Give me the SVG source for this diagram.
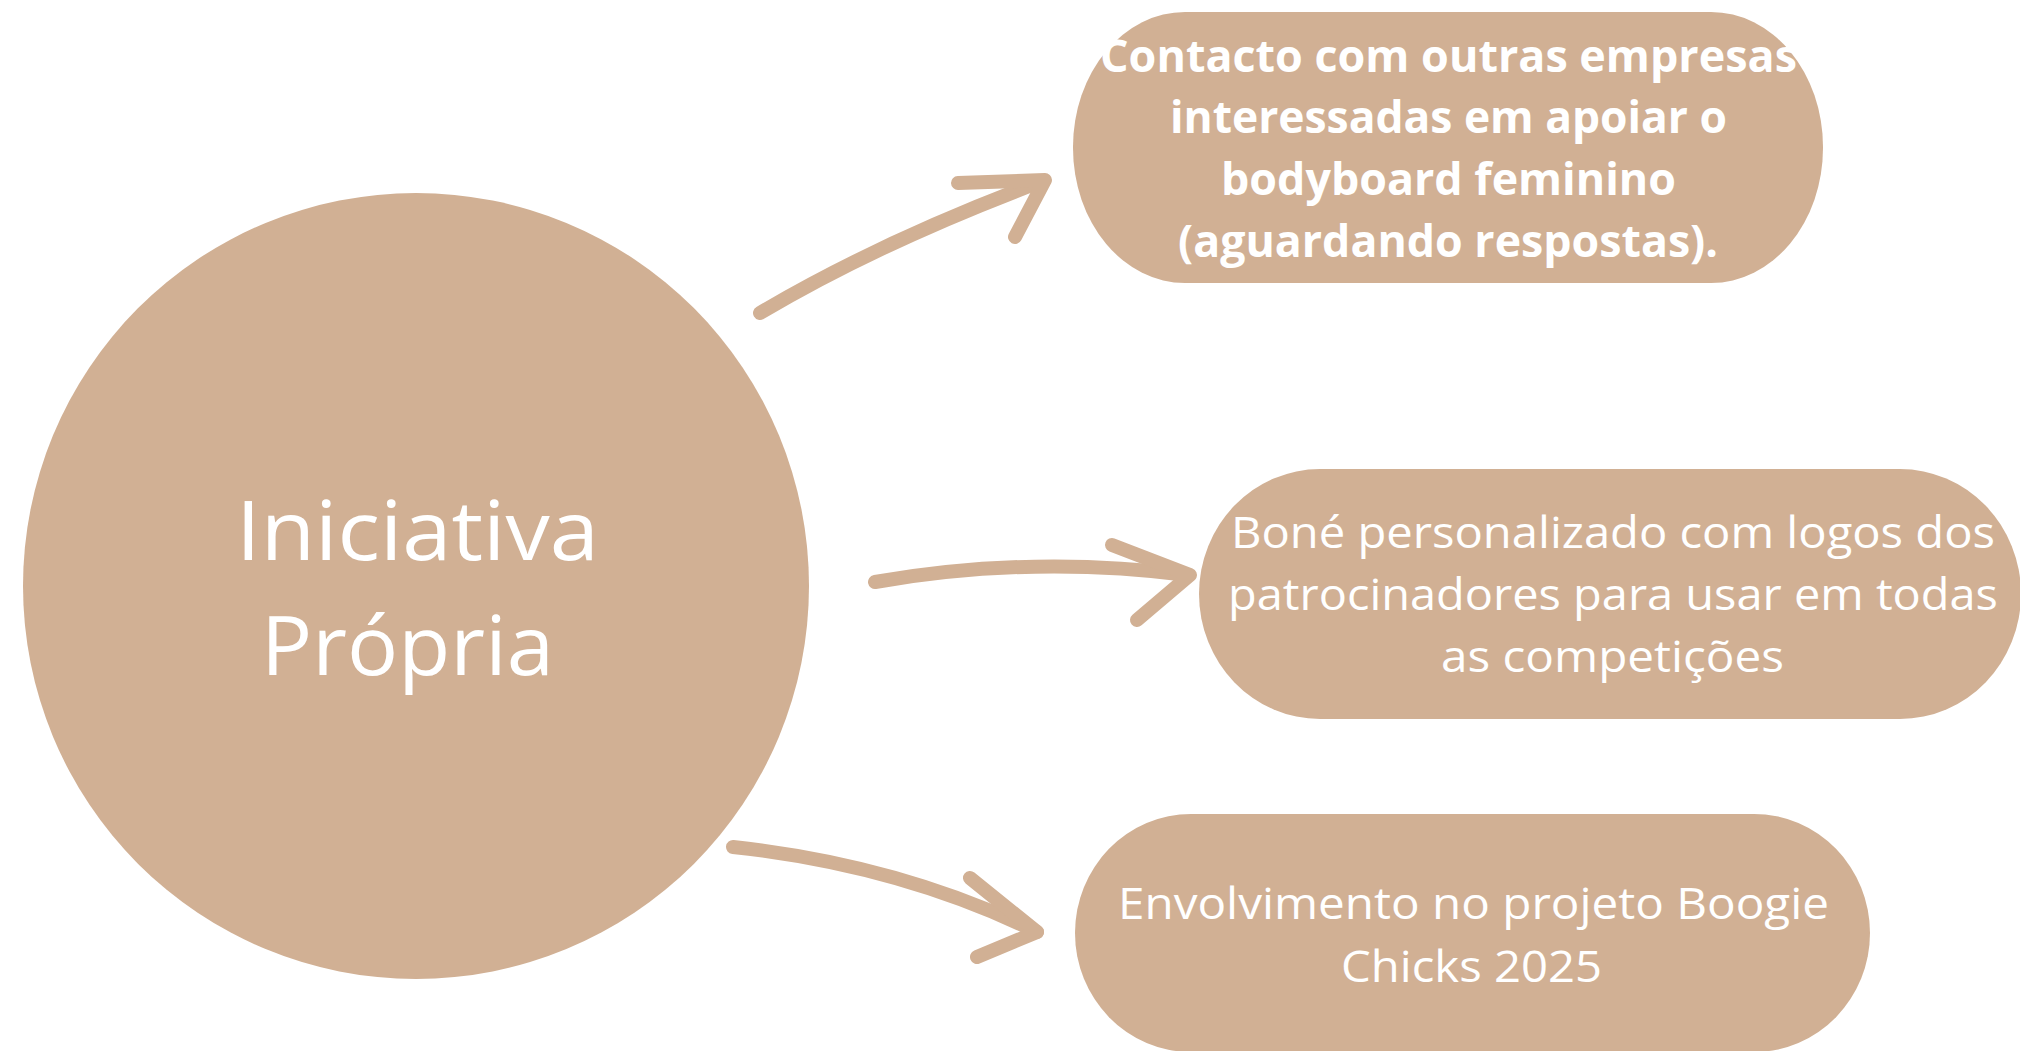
<svg xmlns="http://www.w3.org/2000/svg" width="2020" height="1051" viewBox="0 0 2020 1051">
<style>
.shape{fill:#D1B094;}
.t{fill:#ffffff;font-family:"Open Sans","Noto Sans","Liberation Sans",sans-serif;}
.b{font-weight:700;font-size:45px;}
.r{font-weight:400;font-size:43px;}
.c{font-weight:400;font-size:82px;}
.arr{fill:none;stroke:#D1B094;stroke-width:14;stroke-linecap:round;stroke-linejoin:round;}
</style>
<rect x="0" y="0" width="2020" height="1051" fill="#ffffff"/>
<g id="node-iniciativa">
<circle class="shape" cx="416" cy="586" r="393"/>
<text class="t c" x="236" y="560" textLength="363" lengthAdjust="spacingAndGlyphs">Iniciativa</text>
<text class="t c" x="261" y="675" textLength="293" lengthAdjust="spacingAndGlyphs">Própria</text>
</g>
<g id="node-contacto">
<rect class="shape" x="1073" y="12" width="750" height="271" rx="112" ry="135"/>
<text class="t b" x="1100" y="72" textLength="697" lengthAdjust="spacingAndGlyphs">Contacto com outras empresas</text>
<text class="t b" x="1170" y="133" textLength="557" lengthAdjust="spacingAndGlyphs">interessadas em apoiar o</text>
<text class="t b" x="1221" y="195" textLength="455" lengthAdjust="spacingAndGlyphs">bodyboard feminino</text>
<text class="t b" x="1178" y="257" textLength="540" lengthAdjust="spacingAndGlyphs">(aguardando respostas).</text>
</g>
<g id="node-bone">
<rect class="shape" x="1199" y="469" width="822" height="250" rx="121" ry="125"/>
<text class="t r" x="1231" y="548" textLength="764" lengthAdjust="spacingAndGlyphs">Boné personalizado com logos dos</text>
<text class="t r" x="1228" y="610" textLength="770" lengthAdjust="spacingAndGlyphs">patrocinadores para usar em todas</text>
<text class="t r" x="1441" y="672" textLength="343" lengthAdjust="spacingAndGlyphs">as competições</text>
</g>
<g id="node-boogie">
<rect class="shape" x="1075" y="814" width="795" height="238" rx="116" ry="119"/>
<text class="t r" x="1118" y="919" textLength="711" lengthAdjust="spacingAndGlyphs">Envolvimento no projeto Boogie</text>
<text class="t r" x="1341" y="982" textLength="261" lengthAdjust="spacingAndGlyphs">Chicks 2025</text>
</g>
<g id="connectors">
<path class="arr" d="M760,313 Q880,242 1040,182"/>
<path class="arr" d="M958,183 L1045,180 L1015,237"/>
<path class="arr" d="M875,582 Q1030,555 1188,575"/>
<path class="arr" d="M1112,545 L1190,575 L1137,620"/>
<path class="arr" d="M733,847 Q900,865 1037,932"/>
<path class="arr" d="M970,878 L1037,932 L977,957"/>
</g>
</svg>
